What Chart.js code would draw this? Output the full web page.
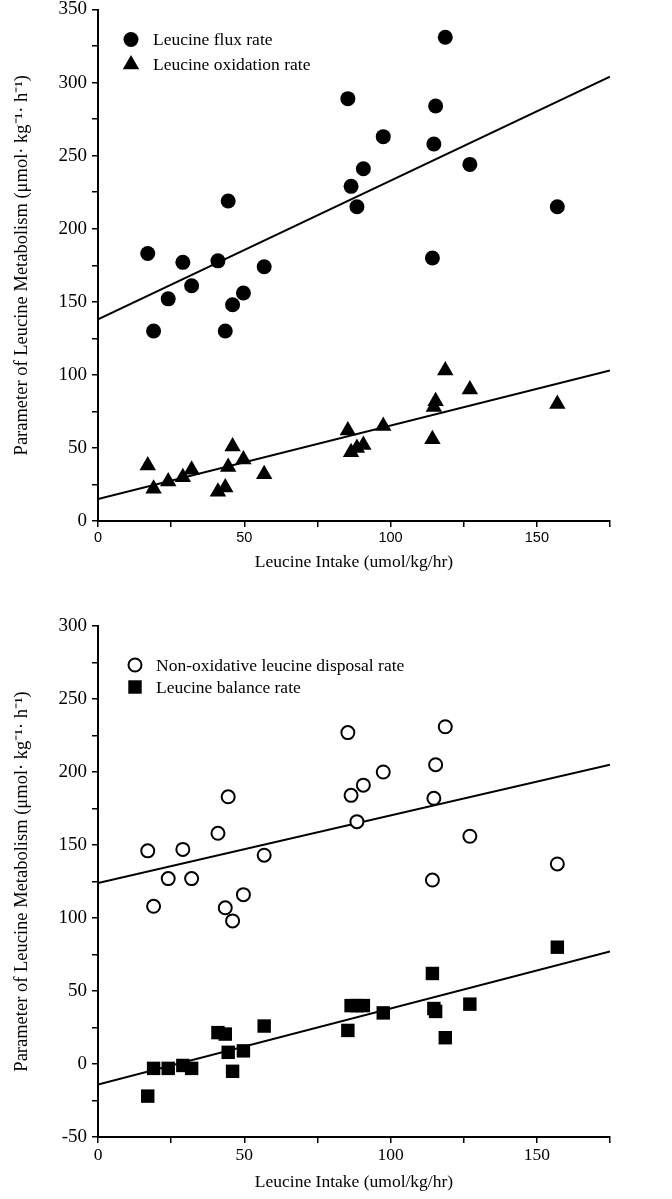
<!DOCTYPE html>
<html>
<head>
<meta charset="utf-8">
<script src="https://cdn.jsdelivr.net/npm/chart.js@4.4.1/dist/chart.umd.min.js"></script>
<style>
  body { margin: 0; background: #fff; }
  canvas { display: block; }
</style>
</head>
<body>
<canvas id="topChart" width="672" height="600"></canvas>
<canvas id="bottomChart" width="672" height="599"></canvas>
<script>
// Leucine intake (umol/kg/hr), one value per subject, shared by all series
const intake = [17, 19, 24, 29, 32, 41, 43.5, 44.5, 46, 49.7, 56.8, 85.4, 86.5, 88.5, 90.7, 97.5, 114.3, 114.8, 115.4, 118.7, 127.1, 157];

// top panel
const fluxRate = [183, 130, 152, 177, 161, 178, 130, 219, 148, 156, 174, 289, 229, 215, 241, 263, 180, 258, 284, 331, 244, 215];
const oxidationRate = [38, 22, 27, 30, 35, 20, 23, 37, 51, 42, 32, 62, 47, 50, 52, 65, 56, 78, 82, 103, 90, 80];

// bottom panel
const disposalRate = [146, 108, 127, 147, 127, 158, 107, 183, 98, 116, 143, 227, 184, 166, 191, 200, 126, 182, 205, 231, 156, 137];
const balanceRate = [-22, -3, -3, -1, -3, 21.5, 20.5, 8, -5, 9, 26, 23, 40, 40, 40, 35, 62, 38, 36, 18, 41, 80];

// regression lines, read at x = 0 and x = 175
const lineX = [0, 175];
const fluxLine = [138, 304];
const oxidationLine = [15, 103];
const disposalLine = [124, 205];
const balanceLine = [-14, 77];

const xTitle = 'Leucine Intake (umol/kg/hr)';
const yTitle = 'Parameter of Leucine Metabolism (\u03bcmol\u00b7 kg\u207b\u00b9\u00b7 h\u207b\u00b9)';

const serif = '"Liberation Serif", "Times New Roman", serif';
const sans = '"Liberation Sans", Arial, sans-serif';

function points(ys) {
    return intake.map((x, i) => ({ x: x, y: ys[i] }));
}

function linePoints(ys) {
    return lineX.map((x, i) => ({ x: x, y: ys[i] }));
}

// same shapes as Chart.js point styles
function drawMarker(ctx, style, x, y, r, fill, stroke, lw) {
    ctx.beginPath();
    if (style === 'circle') {
        ctx.arc(x, y, r, 0, Math.PI * 2);
    } else if (style === 'triangle') {
        ctx.moveTo(x, y - r);
        ctx.lineTo(x + Math.sin(Math.PI * 2 / 3) * r, y - Math.cos(Math.PI * 2 / 3) * r);
        ctx.lineTo(x + Math.sin(Math.PI * 4 / 3) * r, y - Math.cos(Math.PI * 4 / 3) * r);
        ctx.closePath();
    } else if (style === 'rect') {
        const s = Math.SQRT1_2 * r;
        ctx.rect(x - s, y - s, 2 * s, 2 * s);
    }
    ctx.fillStyle = fill;
    ctx.fill();
    if (lw > 0) {
        ctx.lineWidth = lw;
        ctx.strokeStyle = stroke;
        ctx.stroke();
    }
}

// legend drawn inside the plot, top left
const insideLegend = {
    id: 'insideLegend',
    afterDraw(chart, args, opts) {
        const ctx = chart.ctx;
        const area = chart.chartArea;
        ctx.save();
        ctx.font = '17.5px ' + serif;
        ctx.textBaseline = 'middle';
        let y = area.top + opts.y;
        chart.data.datasets.forEach((ds) => {
            if (ds.type !== 'scatter') return;
            drawMarker(ctx, ds.pointStyle, area.left + opts.markerX, y, ds.pointRadius,
                ds.pointBackgroundColor, ds.pointBorderColor, ds.pointBorderWidth);
            ctx.fillStyle = '#000';
            ctx.fillText(ds.label, area.left + opts.textX, y + 1);
            y += opts.rowGap;
        });
        ctx.restore();
    },
};

function makeChart(id, cfg) {
    const ctx = document.getElementById(id).getContext('2d');
    return new Chart(ctx, {
        data: {
            datasets: [
                {
                    type: 'scatter',
                    label: cfg.names[0],
                    data: points(cfg.series[0]),
                    pointStyle: cfg.styles[0].style,
                    pointRadius: cfg.styles[0].r,
                    pointBackgroundColor: cfg.styles[0].fill,
                    pointBorderColor: '#000',
                    pointBorderWidth: cfg.styles[0].lw,
                },
                {
                    type: 'scatter',
                    label: cfg.names[1],
                    data: points(cfg.series[1]),
                    pointStyle: cfg.styles[1].style,
                    pointRadius: cfg.styles[1].r,
                    pointBackgroundColor: cfg.styles[1].fill,
                    pointBorderColor: '#000',
                    pointBorderWidth: cfg.styles[1].lw,
                },
                {
                    type: 'line',
                    data: linePoints(cfg.lines[0]),
                    borderColor: '#000',
                    borderWidth: 2,
                    pointRadius: 0,
                },
                {
                    type: 'line',
                    data: linePoints(cfg.lines[1]),
                    borderColor: '#000',
                    borderWidth: 2,
                    pointRadius: 0,
                },
            ],
        },
        options: {
            responsive: false,
            animation: false,
            layout: { padding: { top: cfg.padTop, right: 62, left: 0, bottom: 0 } },
            plugins: {
                legend: { display: false },
                tooltip: { enabled: false },
                insideLegend: cfg.legend,
            },
            scales: {
                x: {
                    type: 'linear',
                    min: 0,
                    max: 175,
                    grid: { drawOnChartArea: false, color: '#000', tickLength: 6, lineWidth: 1.5 },
                    border: { color: '#000', width: 2 },
                    ticks: {
                        stepSize: 25,
                        autoSkip: false,
                        maxRotation: 0,
                        padding: cfg.xTickPad,
                        color: '#000',
                        font: cfg.xTickFont,
                        callback: (v) => (v % 50 === 0 ? String(v) : ''),
                    },
                    title: {
                        display: true,
                        text: xTitle,
                        color: '#000',
                        font: { family: serif, size: 17.5 },
                        padding: { top: 0, bottom: cfg.xTitlePad },
                    },
                    afterFit: (scale) => {
                        scale.height = cfg.xHeight;
                        scale.paddingLeft = 0;
                        scale.paddingRight = 0;
                    },
                },
                y: {
                    min: cfg.yMin,
                    max: cfg.yMax,
                    grid: { drawOnChartArea: false, color: '#000', tickLength: 6, lineWidth: 1.5 },
                    border: { color: '#000', width: 2 },
                    ticks: {
                        stepSize: 25,
                        autoSkip: false,
                        padding: 5,
                        color: '#000',
                        font: { family: serif, size: 19 },
                        callback: (v) => (v % 50 === 0 ? String(v) : ''),
                    },
                    title: {
                        display: true,
                        text: yTitle,
                        color: '#000',
                        font: { family: serif, size: 18.5 },
                        padding: { top: 11, bottom: 0 },
                    },
                    afterFit: (scale) => {
                        scale.width = 98;
                        scale.paddingTop = 0;
                        scale.paddingBottom = 0;
                    },
                },
            },
        },
        plugins: [insideLegend],
    });
}

makeChart('topChart', {
    names: ['Leucine flux rate', 'Leucine oxidation rate'],
    series: [fluxRate, oxidationRate],
    lines: [fluxLine, oxidationLine],
    styles: [
        { style: 'circle', r: 7.5, fill: '#000', lw: 0 },
        { style: 'triangle', r: 9.5, fill: '#000', lw: 0 },
    ],
    yMin: 0,
    yMax: 350,
    padTop: 7,
    xHeight: 79,
    xTickPad: 2,
    xTickFont: { family: sans, size: 14.5 },
    xTitlePad: 27,
    legend: { markerX: 33, textX: 55, y: 30, rowGap: 25 },
});

makeChart('bottomChart', {
    names: ['Non-oxidative leucine disposal rate', 'Leucine balance rate'],
    series: [disposalRate, balanceRate],
    lines: [disposalLine, balanceLine],
    styles: [
        { style: 'circle', r: 6.5, fill: '#fff', lw: 2 },
        { style: 'rect', r: 9.5, fill: '#000', lw: 0 },
    ],
    yMin: -50,
    yMax: 300,
    padTop: 26,
    xHeight: 62,
    xTickPad: 2,
    xTickFont: { family: serif, size: 17.5 },
    xTitlePad: 6,
    legend: { markerX: 37, textX: 58, y: 39, rowGap: 22 },
});
</script>
</body>
</html>
